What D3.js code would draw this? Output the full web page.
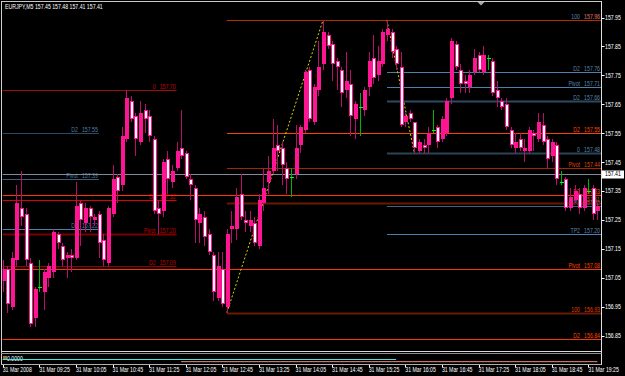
<!DOCTYPE html>
<html>
<head>
<meta charset="utf-8">
<script src="https://cdn.jsdelivr.net/npm/d3@7/dist/d3.min.js"></script>
<style>
    html, body { margin: 0; padding: 0; background: #000; }
    svg { display: block; }
    text { font-family: "Liberation Sans", Arial, sans-serif; font-size: 6.5px; }
</style>
</head>
<body>
<div id="chart"></div>
<script>
// EURJPY M5 bars
var openP = [157.04,157.08,156.95,157.11,157.29,157.27,157.10,156.91,157.02,157.00,
    157.05,157.07,157.20,157.16,157.12,157.13,157.12,157.31,157.24,157.29,
    157.25,157.27,157.18,157.10,157.27,157.40,157.37,157.53,157.66,157.61,
    157.52,157.63,157.61,157.53,157.29,157.28,157.46,157.38,157.43,157.50,
    157.48,157.39,157.36,157.24,157.26,157.20,157.13,156.98,157.08,156.95,
    157.22,157.22,157.34,157.25,157.23,157.24,157.16,157.31,157.38,157.42,
    157.51,157.50,157.43,157.40,157.41,157.51,157.56,157.77,157.59,157.70,
    157.79,157.89,157.86,157.80,157.77,157.70,157.72,157.60,157.64,157.63,
    157.71,157.81,157.75,157.79,157.89,157.90,157.84,157.78,157.59,157.62,
    157.59,157.49,157.51,157.51,157.56,157.57,157.53,157.55,157.67,157.86,
    157.77,157.73,157.71,157.76,157.82,157.76,157.81,157.80,157.70,157.66,
    157.65,157.56,157.50,157.53,157.49,157.49,157.55,157.53,157.58,157.53,
    157.47,157.51,157.38,157.39,157.29,157.32,157.34,157.29,157.35,157.36,
    157.28];
var highP = [157.11,157.09,157.14,157.37,157.42,157.29,157.12,157.02,157.11,157.08,
    157.10,157.22,157.21,157.17,157.14,157.15,157.38,157.32,157.31,157.30,
    157.27,157.28,157.20,157.30,157.44,157.41,157.57,157.70,157.68,157.62,
    157.66,157.65,157.63,157.54,157.32,157.46,157.49,157.44,157.52,157.63,
    157.49,157.41,157.37,157.29,157.28,157.22,157.14,157.14,157.14,157.22,
    157.28,157.36,157.41,157.28,157.28,157.26,157.34,157.43,157.47,157.60,
    157.58,157.52,157.45,157.43,157.58,157.58,157.77,157.78,157.72,157.87,
    157.94,157.90,157.87,157.81,157.78,157.83,157.77,157.66,157.69,157.71,
    157.83,157.89,157.85,157.91,157.94,157.91,157.85,157.83,157.62,157.63,
    157.59,157.53,157.53,157.57,157.63,157.58,157.61,157.67,157.88,157.87,
    157.79,157.75,157.77,157.84,157.83,157.85,157.82,157.81,157.73,157.67,
    157.67,157.57,157.55,157.55,157.53,157.57,157.56,157.62,157.62,157.54,
    157.53,157.52,157.42,157.40,157.36,157.37,157.36,157.37,157.39,157.37,
    157.31];
var lowP = [157.00,156.93,156.94,157.09,157.23,157.09,156.88,156.88,157.00,156.94,
    157.02,157.05,157.15,157.09,157.05,157.07,157.11,157.16,157.21,157.21,
    157.23,157.12,157.09,157.09,157.26,157.31,157.35,157.52,157.59,157.47,
    157.51,157.55,157.52,157.27,157.20,157.26,157.34,157.36,157.42,157.46,
    157.39,157.32,157.17,157.17,157.16,157.13,156.97,156.97,156.95,156.93,
    157.17,157.18,157.25,157.21,157.21,157.16,157.15,157.28,157.34,157.41,
    157.42,157.37,157.34,157.33,157.39,157.48,157.55,157.59,157.58,157.68,
    157.77,157.84,157.73,157.70,157.64,157.67,157.54,157.53,157.54,157.61,
    157.68,157.72,157.73,157.78,157.87,157.81,157.77,157.57,157.57,157.59,
    157.48,157.48,157.48,157.48,157.55,157.50,157.52,157.54,157.65,157.77,
    157.69,157.69,157.69,157.75,157.76,157.75,157.77,157.68,157.64,157.63,
    157.56,157.50,157.48,157.49,157.45,157.48,157.49,157.52,157.51,157.43,
    157.45,157.37,157.37,157.28,157.28,157.31,157.27,157.28,157.34,157.25,
    157.25];
var closeP = [157.08,156.96,157.12,157.31,157.26,157.11,156.89,157.01,157.02,157.07,
    157.09,157.21,157.17,157.11,157.13,157.12,157.30,157.25,157.29,157.26,
    157.26,157.17,157.11,157.29,157.39,157.35,157.54,157.67,157.60,157.53,
    157.62,157.60,157.54,157.28,157.27,157.45,157.39,157.42,157.49,157.47,
    157.40,157.37,157.25,157.27,157.19,157.14,157.00,157.09,156.96,157.20,
    157.23,157.33,157.26,157.24,157.25,157.17,157.32,157.36,157.42,157.50,
    157.49,157.44,157.39,157.40,157.50,157.57,157.76,157.60,157.71,157.78,
    157.90,157.85,157.79,157.78,157.69,157.73,157.61,157.65,157.64,157.70,
    157.80,157.74,157.80,157.90,157.91,157.83,157.79,157.58,157.61,157.60,
    157.50,157.52,157.50,157.55,157.56,157.52,157.60,157.66,157.87,157.78,
    157.72,157.72,157.75,157.81,157.77,157.82,157.81,157.69,157.67,157.64,
    157.57,157.51,157.52,157.50,157.50,157.56,157.54,157.59,157.52,157.46,
    157.52,157.39,157.38,157.29,157.33,157.35,157.29,157.36,157.35,157.27,
    157.30];

var timeLabels = ["31 Mar 2008","31 Mar 09:25","31 Mar 10:05","31 Mar 10:45","31 Mar 11:25",
    "31 Mar 12:05","31 Mar 12:45","31 Mar 13:25","31 Mar 14:05","31 Mar 14:45","31 Mar 15:25",
    "31 Mar 16:05","31 Mar 16:45","31 Mar 17:25","31 Mar 18:05","31 Mar 18:45","31 Mar 19:25"];
var priceTicks = [157.95,157.85,157.75,157.65,157.55,157.45,157.35,157.25,157.15,157.05,156.95,156.85];
var lastPrice = 157.41;
var titleText = "EURJPY,M5  157.45 157.48 157.41 157.41";

// old fibo on the left (red), ends at bar 38
var redFiboNames = ["0", "D2", "Pivot", "D2"];
var redFiboValues = [157.70, 157.32, 157.20, 157.09];
// old fibo on the left (steel), ends at bar 21
var steelFiboNames = ["D2", "Pivot", "D2"];
var steelFiboValues = [157.55, 157.39, 157.22];
// rising fibo (orange), from bar 49
var upFiboNames = ["", "D2", "Pivot", "", "100"];
var upFiboValues = [157.94, 157.55, 157.43, 157.31, 156.93];
var upFiboLabels = ["157.96", "157.55", "157.44", "157.31", "156.93"];
// falling fibo (steel), from bar 84
var downFiboNames = ["100", "D2", "Pivot", "D2", "0", "TP1", "TP2"];
var downFiboValues = [157.94, 157.76, 157.71, 157.66, 157.48, 157.30, 157.20];
var downFiboLabels = ["157.96", "157.76", "157.71", "157.66", "157.48", "157.30", "157.20"];
// daily pivot lines, whole width
var pivotNames = ["D2", "Pivot", "D2"];
var pivotValues = [157.335, 157.08, 156.84];
var pivotLabels = ["157.33", "157.08", "156.84"];

// fibo anchor trend lines [bar, price]
var upAnchor = [[49, 156.93], [70, 157.94]];
var downAnchor = [[84, 157.94], [90, 157.48]];

// sub window indicator lines [fromBar, toBar, value]
var subLineA = [0, 86, 0];
var subLineB = [39, 130, -0.0001];

var width = 625, height = 376;
var plotLeft = 2.5, plotRight = 601.5, plotTop = 1.5, plotBottom = 351;
var squeeze = 0.8;   // terminal font is narrow

var svg = d3.select("#chart")
    .append("svg")
        .attr("width", width)
        .attr("height", height)
        .style("background", "#000")
;

var x = d3.scaleLinear().domain([0, 130]).range([2.7, 597.45]);
var y = d3.scaleLinear().domain([157.95, 156.85]).range([17.5, 335.7]);
var ySub = d3.scaleLinear().domain([0.0003, -0.0003]).range([353, 366]);

function at(px, py) {
    return "translate(" + px + "," + py + ") scale(" + squeeze + ",1)";
}

svg.append("clipPath").attr("id", "plotclip")
    .append("rect")
        .attr("x", plotLeft).attr("y", plotTop)
        .attr("width", plotRight - plotLeft).attr("height", plotBottom - plotTop);

var plot = svg.append("g").attr("clip-path", "url(#plotclip)");

// level lines with name + price labels at the right end
function drawLevels(names, values, labels, fromBar, toBar, colors, widths, textColors) {
    var x0 = fromBar == null ? plotLeft : x(fromBar);
    var x1 = toBar == null ? plotRight - 0.5 : x(toBar);
    var g = plot.append("g");
    g.selectAll("line")
        .data(values)
        .enter().append("line")
            .attr("x1", x0)
            .attr("x2", x1)
            .attr("y1", function(d) { return Math.round(y(d)) + 0.5; })
            .attr("y2", function(d) { return Math.round(y(d)) + 0.5; })
            .attr("stroke", function(d, i) { return colors[i]; })
            .attr("stroke-width", function(d, i) { return widths[i]; });
    g.selectAll("text.price")
        .data(values)
        .enter().append("text")
            .attr("class", "price")
            .attr("transform", function(d) { return at(x1 - 1, Math.round(y(d)) - 1.5); })
            .attr("text-anchor", "end")
            .attr("fill", function(d, i) { return textColors[i]; })
            .text(function(d, i) { return labels ? labels[i] : d3.format(".2f")(d); });
    g.selectAll("text.name")
        .data(values)
        .enter().append("text")
            .attr("class", "name")
            .attr("transform", function(d) { return at(x1 - 21, Math.round(y(d)) - 1.5); })
            .attr("text-anchor", "end")
            .attr("fill", function(d, i) { return textColors[i]; })
            .text(function(d, i) { return names[i]; });
}

drawLevels(steelFiboNames, steelFiboValues, null, null, 21,
    ["#2c4a66", "#3a5f80", "#4a7fae"], [1, 1, 1], ["#4f7fa8", "#4f7fa8", "#4f7fa8"]);
drawLevels(redFiboNames, redFiboValues, null, null, 38,
    ["#a00c0c", "#e00000", "#780000", "#9a0000"], [1, 1, 2, 1], ["#d00000", "#c80000", "#c80000", "#c80000"]);
drawLevels(downFiboNames, downFiboValues, downFiboLabels, 84, null,
    ["#4a7fae", "#4a7fae", "#4a7fae", "#2c4a62", "#2a4458", "#3d6585", "#4a7fae"], [1, 1, 1, 2, 2, 1, 1],
    ["#5a84ad", "#5a84ad", "#5a84ad", "#5a84ad", "#5a84ad", "#5a84ad", "#5a84ad"]);
drawLevels(upFiboNames, upFiboValues, upFiboLabels, 49, null,
    ["#b03000", "#ff4000", "#a02800", "#6a1800", "#6a1a00"], [1, 1, 1, 2, 2],
    ["#d03000", "#ff4500", "#e04000", "#d04000", "#e04000"]);
drawLevels(pivotNames, pivotValues, pivotLabels, null, null,
    ["#ff3300", "#ff3300", "#ff3300"], [1, 1, 1], ["#ff4500", "#ff4500", "#ff4500"]);

// bid line
plot.append("line")
    .attr("x1", plotLeft).attr("x2", plotRight)
    .attr("y1", Math.round(y(lastPrice)) + 0.5).attr("y2", Math.round(y(lastPrice)) + 0.5)
    .attr("stroke", "#7f8b97");

// fibo anchor lines, dotted
[upAnchor, downAnchor].forEach(function(a) {
    plot.append("line")
        .attr("x1", x(a[0][0])).attr("y1", y(a[0][1]))
        .attr("x2", x(a[1][0])).attr("y2", y(a[1][1]))
        .attr("stroke", "#d8d800")
        .attr("stroke-width", 1)
        .attr("stroke-dasharray", "2,2");
});

// candles
var bars = d3.range(openP.length);
var candles = plot.append("g");

candles.selectAll("line.wick")
    .data(bars)
    .enter().append("line")
        .attr("class", "wick")
        .attr("x1", function(i) { return Math.round(x(i)) + 0.5; })
        .attr("x2", function(i) { return Math.round(x(i)) + 0.5; })
        .attr("y1", function(i) { return Math.round(y(highP[i])); })
        .attr("y2", function(i) { return Math.round(y(lowP[i])); })
        .attr("stroke", function(i) { return openP[i] == closeP[i] ? "#00b400" : "#b8106a"; });

candles.selectAll("rect.up")
    .data(bars.filter(function(i) { return closeP[i] > openP[i]; }))
    .enter().append("rect")
        .attr("class", "up")
        .attr("x", function(i) { return Math.round(x(i)) - 1; })
        .attr("y", function(i) { return Math.round(y(closeP[i])); })
        .attr("width", 4)
        .attr("height", function(i) { return Math.max(1, Math.round(y(openP[i])) - Math.round(y(closeP[i]))); })
        .style("fill", "#ff1493");

candles.selectAll("rect.down")
    .data(bars.filter(function(i) { return closeP[i] < openP[i]; }))
    .enter().append("rect")
        .attr("class", "down")
        .attr("x", function(i) { return Math.round(x(i)) - 0.5; })
        .attr("y", function(i) { return Math.round(y(openP[i])) + 0.5; })
        .attr("width", 3)
        .attr("height", function(i) { return Math.max(1, Math.round(y(closeP[i])) - Math.round(y(openP[i])) - 1); })
        .style("fill", "#ffffff")
        .style("stroke", "#ff1493");

candles.selectAll("line.doji")
    .data(bars.filter(function(i) { return closeP[i] == openP[i]; }))
    .enter().append("line")
        .attr("class", "doji")
        .attr("x1", function(i) { return Math.round(x(i)) - 1; })
        .attr("x2", function(i) { return Math.round(x(i)) + 3; })
        .attr("y1", function(i) { return Math.round(y(closeP[i])) + 0.5; })
        .attr("y2", function(i) { return Math.round(y(closeP[i])) + 0.5; })
        .attr("stroke", "#00ff00");

// frame
var frame = svg.append("g").attr("fill", "none");
frame.append("line").attr("x1", 1).attr("x2", plotRight).attr("y1", 1.5).attr("y2", 1.5).attr("stroke", "#c8c8c8");
frame.append("line").attr("x1", 1.5).attr("x2", 1.5).attr("y1", 1).attr("y2", 365).attr("stroke", "#d0d0d0");
frame.append("line").attr("x1", plotRight).attr("x2", plotRight).attr("y1", 1).attr("y2", 365).attr("stroke", "#e0e0e0");
frame.append("line").attr("x1", 1).attr("x2", plotRight).attr("y1", 351.5).attr("y2", 351.5).attr("stroke", "#d8d8d8");
frame.append("line").attr("x1", 1).attr("x2", plotRight).attr("y1", 353.5).attr("y2", 353.5).attr("stroke", "#909090");
frame.append("line").attr("x1", 1).attr("x2", plotRight).attr("y1", 364.5).attr("y2", 364.5).attr("stroke", "#b0b0b0");

// chart shift marker
svg.append("path")
    .attr("d", "M477.5,2 L484.5,2 L481,5.5 Z")
    .attr("fill", "#a8a8a8");

// title
svg.append("text")
    .attr("transform", at(5, 9))
    .attr("fill", "#ffffff")
    .text(titleText);

// price axis
var axisR = svg.append("g");
axisR.selectAll("line")
    .data(priceTicks)
    .enter().append("line")
        .attr("x1", plotRight).attr("x2", plotRight + 3)
        .attr("y1", function(d) { return Math.round(y(d)) + 0.5; })
        .attr("y2", function(d) { return Math.round(y(d)) + 0.5; })
        .attr("stroke", "#ffffff");
axisR.selectAll("text")
    .data(priceTicks)
    .enter().append("text")
        .attr("transform", function(d) { return at(605, y(d) + 2.4); })
        .attr("fill", "#ffffff")
        .text(function(d) { return d3.format(".2f")(d); });

axisR.append("rect")
    .attr("x", 602).attr("y", Math.round(y(lastPrice)) - 3.5)
    .attr("width", 22).attr("height", 8)
    .attr("fill", "#ffffff");
axisR.append("text")
    .attr("transform", at(605, y(lastPrice) + 2.4))
    .attr("fill", "#000000")
    .text(d3.format(".2f")(lastPrice));

// sub window
svg.append("rect")
    .attr("x", 3).attr("y", 356).attr("width", 4).attr("height", 4)
    .attr("fill", "#a0702a");
svg.append("text")
    .attr("transform", at(7, 361))
    .attr("fill", "#ffffff")
    .text(d3.format(".4f")(subLineA[2]));
svg.append("line")
    .attr("x1", x(subLineA[0])).attr("x2", x(subLineA[1]))
    .attr("y1", ySub(subLineA[2])).attr("y2", ySub(subLineA[2]))
    .attr("stroke", "#3ee8e8");
svg.append("line")
    .attr("x1", x(subLineB[0])).attr("x2", x(subLineB[1]))
    .attr("y1", ySub(subLineB[2])).attr("y2", ySub(subLineB[2]))
    .attr("stroke", "#f08878");

// time axis
var axisB = svg.append("g");
axisB.selectAll("line")
    .data(timeLabels)
    .enter().append("line")
        .attr("x1", function(d, i) { return Math.round(x(i * 8)) + 0.5; })
        .attr("x2", function(d, i) { return Math.round(x(i * 8)) + 0.5; })
        .attr("y1", 365).attr("y2", 367.5)
        .attr("stroke", "#ffffff");
axisB.selectAll("text")
    .data(timeLabels)
    .enter().append("text")
        .attr("transform", function(d, i) { return at(x(i * 8), 372); })
        .attr("fill", "#ffffff")
        .text(function(d) { return d; });
</script>
</body>
</html>
